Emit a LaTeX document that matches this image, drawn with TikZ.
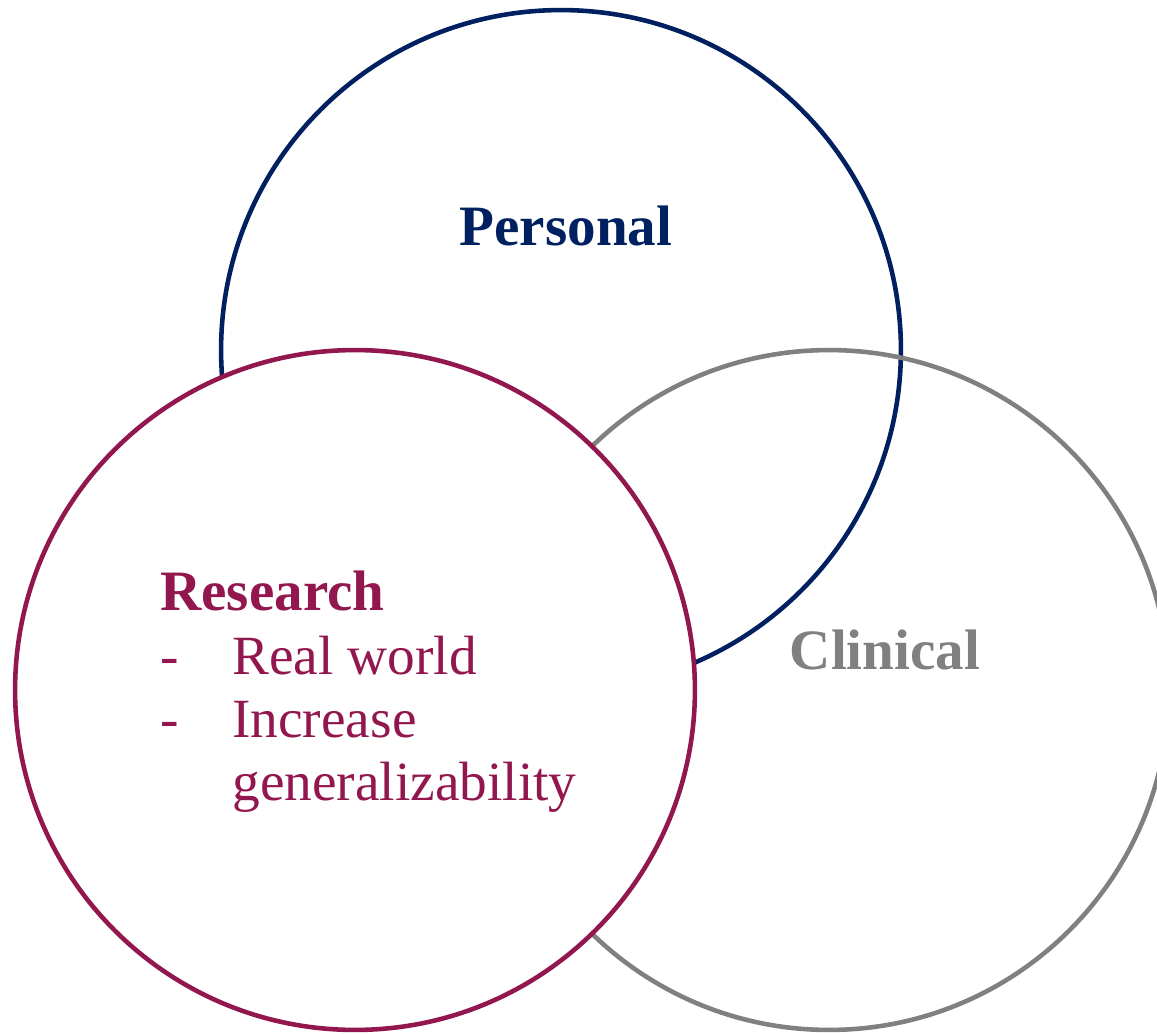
\documentclass[tikz,border=0pt]{standalone}
\usepackage{fontspec}
\setmainfont{Liberation Serif}
\definecolor{vnNavy}{HTML}{002060}
\definecolor{vnPlum}{HTML}{93174F}
\definecolor{vnGrey}{HTML}{808080}
\usetikzlibrary{positioning}
\newcommand{\itemdash}{\makebox[1.44cm][l]{-}}
\newcommand{\headtext}[1]{{\fontsize{32.5}{36}\selectfont\textbf{#1}}}

\begin{document}
\begin{tikzpicture}[x=0.02cm, y=-0.02cm,
  ring/.style={circle, draw=#1, line width=2.6pt, minimum size=13.6cm, inner sep=0pt},
  label/.style={font=\fontsize{31.5}{36}\selectfont, text=#1, inner sep=0pt}
]
  \useasboundingbox (0,0) rectangle (1157,1034);
  % the three circles, research on top
  \node[ring=vnNavy] (personal) at (561,350) {};
  \node[ring=vnGrey] (clinical) at (829,690) {};
  \node[ring=vnPlum, fill=white] (research) at (355,690) {};
  % texts
  \node[label=vnNavy, anchor=base] (personal-text) at (566,245) {\headtext{Personal}};
  \node[label=vnGrey, anchor=base] (clinical-text) at (885,669) {\headtext{Clinical}};
  \node[label=vnPlum, anchor=north west, align=left] (research-text) at (160,571) {
    \headtext{Research}\\
    \itemdash Real world\\
    \itemdash Increase\\
    \hspace*{1.44cm}generalizability
  };
\end{tikzpicture}
\end{document}
